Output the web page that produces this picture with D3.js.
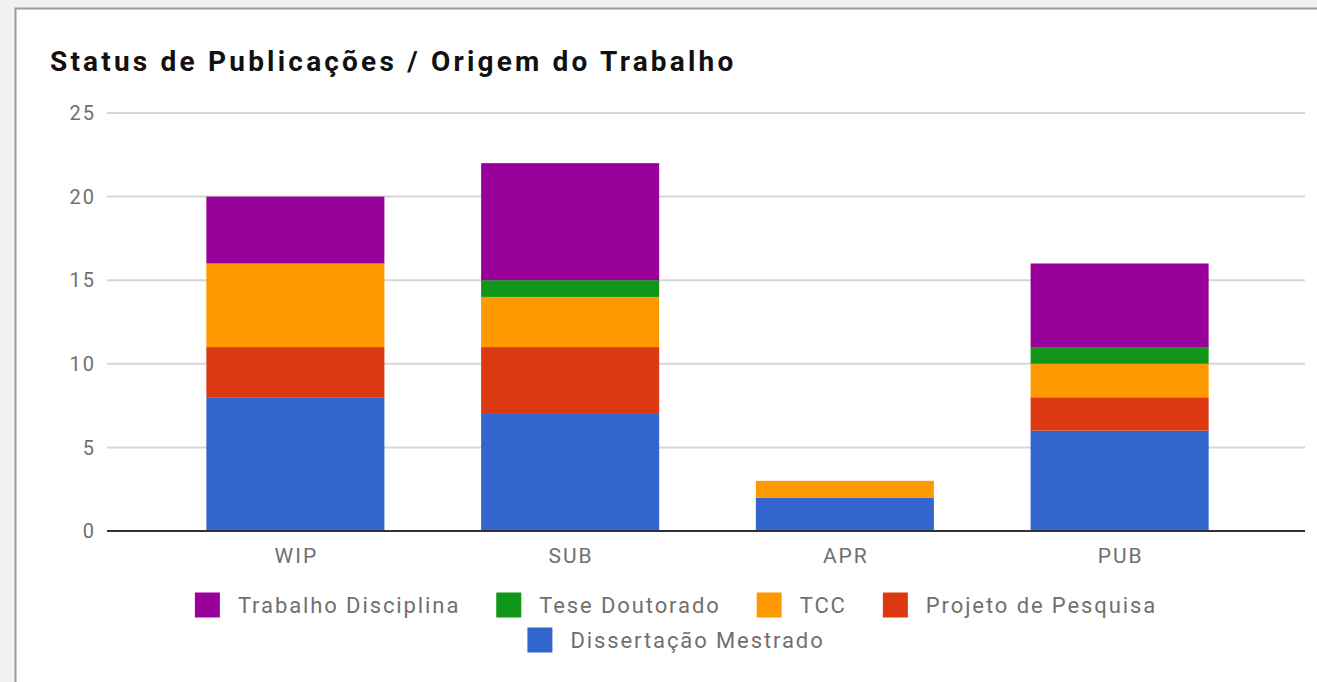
<!DOCTYPE html>
<html>
<head>
<meta charset="utf-8">
<script src="https://d3js.org/d3.v7.min.js"></script>
<style>
  body { margin: 0; background: #f1f1f1; overflow: hidden; }
  text { font-family: Roboto, "Noto Sans", sans-serif; }
</style>
</head>
<body>
<div id="chart"></div>
<script>
// data
var categories = ["WIP", "SUB", "APR", "PUB"];
var seriesNames = ["Dissertação Mestrado", "Projeto de Pesquisa", "TCC", "Tese Doutorado", "Trabalho Disciplina"];
var dissertacao = [8, 7, 2, 6];
var projeto = [3, 4, 0, 2];
var tcc = [5, 3, 1, 2];
var tese = [0, 1, 0, 1];
var trabalho = [4, 7, 0, 5];
var seriesColors = ["#3366cc", "#dc3912", "#ff9900", "#109618", "#990099"];
var yTicks = [0, 5, 10, 15, 20, 25];

var W = 1317, H = 682;
var svg = d3.select("#chart").append("svg").attr("width", W).attr("height", H);

// white panel with grey frame
svg.append("rect").attr("x", 15.5).attr("y", 8.5).attr("width", W).attr("height", H)
  .attr("fill", "white").attr("stroke", "#9a9a9a").attr("stroke-width", 2);

svg.append("text").attr("x", 50).attr("y", 71)
  .style("font-size", "28px").style("font-weight", "bold").style("letter-spacing", "3.2px")
  .attr("fill", "#111")
  .text("Status de Publicações / Origem do Trabalho");

var rows = categories.map(function(c, i) {
  return { cat: c, "Dissertação Mestrado": dissertacao[i], "Projeto de Pesquisa": projeto[i],
           "TCC": tcc[i], "Tese Doutorado": tese[i], "Trabalho Disciplina": trabalho[i] };
});
var stacked = d3.stack().keys(seriesNames)(rows);

var y = d3.scaleLinear().domain([0, 25]).range([531, 113]);
var x = d3.scaleBand().domain(categories).range([158, 1257]).paddingInner(0.352).paddingOuter(0.176);
var color = d3.scaleOrdinal().domain(seriesNames).range(seriesColors);

// gridlines
svg.append("g").selectAll("line").data(yTicks.filter(function(d) { return d > 0; })).enter()
  .append("line").attr("x1", 107).attr("x2", 1305)
  .attr("y1", function(d) { return y(d); }).attr("y2", function(d) { return y(d); })
  .attr("stroke", "#d6d6d6").attr("stroke-width", 2);

svg.append("g").selectAll("text").data(yTicks).enter().append("text")
  .attr("x", 96).attr("y", function(d) { return y(d); }).attr("dy", "0.36em")
  .attr("text-anchor", "end").style("font-size", "20px").style("letter-spacing", "2px")
  .attr("fill", "#707070")
  .text(function(d) { return d; });

// bars
svg.append("g").selectAll("g").data(stacked).enter().append("g")
  .attr("fill", function(d) { return color(d.key); })
  .selectAll("rect").data(function(d) { return d; }).enter().append("rect")
  .attr("x", function(d) { return x(d.data.cat); })
  .attr("width", x.bandwidth())
  .attr("y", function(d) { return y(d[1]); })
  .attr("height", function(d) { return y(d[0]) - y(d[1]); });

// baseline
svg.append("line").attr("x1", 107).attr("x2", 1305).attr("y1", y(0)).attr("y2", y(0))
  .attr("stroke", "#333").attr("stroke-width", 2);

svg.append("g").selectAll("text").data(categories).enter().append("text")
  .attr("x", function(d) { return x(d) + x.bandwidth() / 2 + 1; }).attr("y", 563)
  .attr("text-anchor", "middle").style("font-size", "21px").style("letter-spacing", "2px")
  .attr("fill", "#707070")
  .text(function(d) { return d; });

// legend, two rows centred
var legendRows = [
  ["Trabalho Disciplina", "Tese Doutorado", "TCC", "Projeto de Pesquisa"],
  ["Dissertação Mestrado"]
];
var legendY = [605, 640];
var sw = 25, gapText = 18, gapItem = 36, legendCenter = 676;
legendRows.forEach(function(items, r) {
  var g = svg.append("g");
  var parts = items.map(function(name) {
    var it = g.append("g");
    it.append("rect").attr("width", sw).attr("height", sw).attr("y", legendY[r] - sw / 2)
      .attr("fill", color(name));
    var t = it.append("text").attr("x", sw + gapText).attr("y", legendY[r]).attr("dy", "0.36em")
      .style("font-size", "22px").style("letter-spacing", "1.9px")
      .attr("fill", "#707070").text(name);
    return { g: it, w: sw + gapText + t.node().getComputedTextLength() };
  });
  var total = d3.sum(parts, function(p) { return p.w; }) + gapItem * (parts.length - 1);
  var cx = legendCenter - total / 2;
  parts.forEach(function(p) {
    p.g.attr("transform", "translate(" + cx + ",0)");
    cx += p.w + gapItem;
  });
});
</script>
</body>
</html>
